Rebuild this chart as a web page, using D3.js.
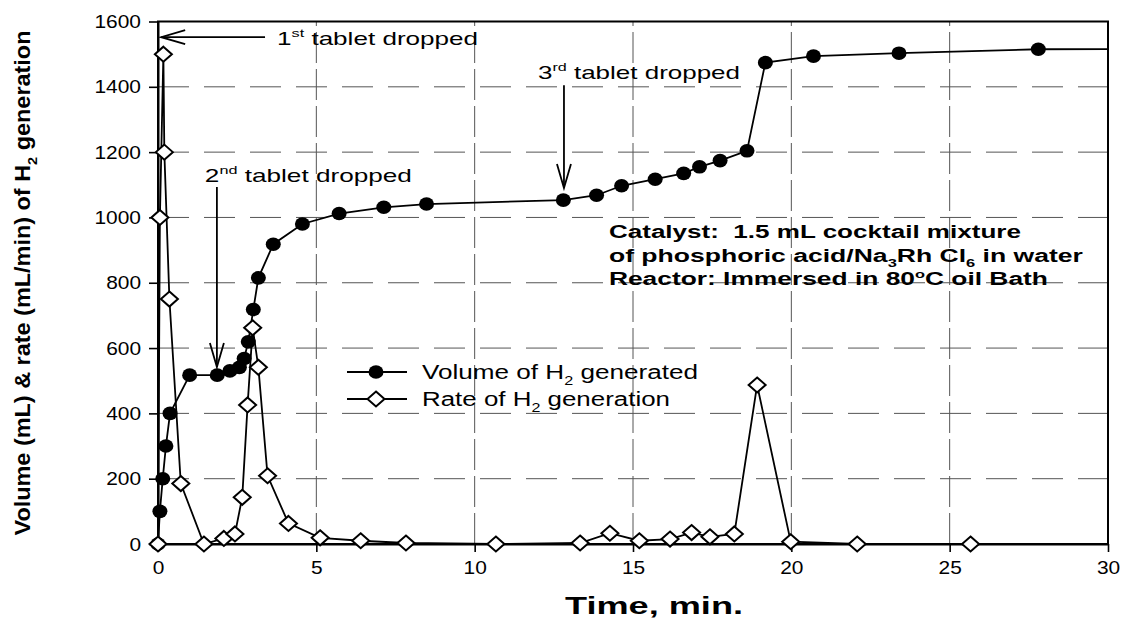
<!DOCTYPE html>
<html>
<head>
<meta charset="utf-8">
<script src="https://cdn.jsdelivr.net/npm/d3@7"></script>
<style>
  body { margin: 0; background: #fff; }
  svg { display: block; font-family: "Liberation Sans", Arial, sans-serif; }
</style>
</head>
<body>
<svg id="chart" width="1125" height="635"></svg>
<script>
// volume of H2 generated (mL) vs time (min)
const volumeTime = [0, 0.06, 0.15, 0.25, 0.38, 1.0, 1.87, 2.27, 2.57, 2.72, 2.85, 3.01, 3.17, 3.64, 4.56, 5.72, 7.13, 8.48, 12.8, 13.85, 14.64, 15.7, 16.6, 17.1, 17.75, 18.6, 19.18, 20.7, 23.4, 27.8, 32];
const volumeValue = [0, 100, 200, 300, 400, 517, 517, 530, 541, 568, 619, 718, 815, 918, 980, 1012, 1031, 1041, 1053, 1068, 1097, 1117, 1135, 1155, 1174, 1204, 1474, 1494, 1503, 1515, 1516];

// rate of H2 generation (mL/min) vs time (min)
const rateTime = [0, 0.06, 0.17, 0.2, 0.36, 0.72, 1.45, 2.08, 2.43, 2.66, 2.83, 2.99, 3.17, 3.46, 4.12, 5.12, 6.4, 7.83, 10.67, 13.33, 14.27, 15.2, 16.17, 16.85, 17.43, 18.2, 18.92, 19.98, 22.08, 25.66, 32];
const rateValue = [0, 1000, 1500, 1200, 750, 185, 0, 17, 31, 143, 426, 662, 541, 209, 63, 19, 10, 3, 0, 3, 33, 10, 15, 35, 22, 31, 487, 7, 0, 0, 0];

const xTicks = [0, 5, 10, 15, 20, 25, 30];
const yTicks = [0, 200, 400, 600, 800, 1000, 1200, 1400, 1600];

const seriesNames = ["Volume of H", "Rate of H"];
const seriesTails = [" generated", " generation"];

// tablet drop annotations (arrow tail -> tip, in data units)
const tabletNum = ["1", "2", "3"];
const tabletSup = ["st", "nd", "rd"];
const tabletTextT = [3.76, 1.48, 12.0];
const tabletTextV = [1528, 1108, 1424];
const arrowFromT = [3.38, 1.86, 12.82];
const arrowFromV = [1552, 1093, 1405];
const arrowToT = [0.1, 1.86, 12.82];
const arrowToV = [1552, 542, 1090];

const noteT = 14.24;
const noteV = [937, 863, 793];

const svg = d3.select("#chart");
const x = d3.scaleLinear().domain([0, 30]).range([158, 1108]);
const y = d3.scaleLinear().domain([0, 1600]).range([544, 21.5]);

svg.append("defs").append("clipPath").attr("id", "plotClip")
  .append("rect")
  .attr("x", x(0)).attr("y", y(1600))
  .attr("width", x(30) - x(0)).attr("height", y(0) - y(1600));

// gridlines
const grid = svg.append("g").attr("stroke", "#555").attr("stroke-width", 1).attr("fill", "none");
grid.selectAll("line.h")
  .data(yTicks.filter(d => d > 0 && d < 1600))
  .join("line")
  .attr("class", "h")
  .attr("x1", x(0)).attr("x2", x(30))
  .attr("y1", d => y(d)).attr("y2", d => y(d))
  .attr("stroke-dasharray", "31,15");
grid.selectAll("line.v")
  .data(xTicks.filter(d => d > 0 && d < 30))
  .join("line")
  .attr("class", "v")
  .attr("x1", d => x(d)).attr("x2", d => x(d))
  .attr("y1", y(0)).attr("y2", y(1600))
  .attr("stroke-dasharray", "31,6");

// frame
svg.append("rect")
  .attr("x", x(0)).attr("y", y(1600))
  .attr("width", x(30) - x(0)).attr("height", y(0) - y(1600))
  .attr("fill", "none").attr("stroke", "#000").attr("stroke-width", 2);

// axes
function styleAxis(g) {
  g.attr("font-family", null).attr("font-size", null);
  g.select(".domain").attr("stroke-width", 2);
  g.selectAll(".tick line").attr("stroke-width", 1.6);
  g.selectAll(".tick text").attr("font-size", 19).attr("fill", "#000")
    .each(function () {
      // the scanned original is a little wider than plain Arial
      const w = this.getComputedTextLength();
      d3.select(this).attr("textLength", w * 1.1).attr("lengthAdjust", "spacingAndGlyphs");
    });
}
svg.append("g")
  .attr("transform", `translate(${x(0)},0)`)
  .call(d3.axisLeft(y).tickValues(yTicks).tickSize(9).tickSizeOuter(0).tickPadding(8).tickFormat(d3.format("d")))
  .call(styleAxis);
svg.append("g")
  .attr("transform", `translate(0,${y(0)})`)
  .call(d3.axisBottom(x).tickValues(xTicks).tickSize(8).tickSizeOuter(0).tickPadding(9).tickFormat(d3.format("d")))
  .call(styleAxis);

// rich text helper (sub/superscripts), optional forced width
function richText(parent, parts, o) {
  const t = parent.append("text")
    .attr("x", o.x).attr("y", o.y)
    .attr("font-size", o.size)
    .attr("font-weight", o.weight || "normal")
    .attr("text-anchor", o.anchor || "start")
    .attr("fill", "#000")
    .style("white-space", "pre");
  if (o.rotate) t.attr("transform", `rotate(${o.rotate},${o.x},${o.y})`);
  let shift = 0;
  parts.forEach(p => {
    const [s, kind] = Array.isArray(p) ? p : [p, null];
    const off = kind === "sub" ? o.size * 0.3 : kind === "sup" ? -o.size * 0.42 : 0;
    t.append("tspan")
      .attr("dy", off - shift)
      .attr("font-size", kind ? o.size * 0.62 : o.size)
      .text(s);
    shift = off;
  });
  if (o.width) t.attr("textLength", o.width).attr("lengthAdjust", "spacingAndGlyphs");
  return t;
}

// series
const volume = volumeTime.map((t, i) => ({ t, v: volumeValue[i] }));
const rate = rateTime.map((t, i) => ({ t, v: rateValue[i] }));
const line = d3.line().x(d => x(d.t)).y(d => y(d.v));
const plot = svg.append("g").attr("clip-path", "url(#plotClip)");
const diamond = "M0,-7.5L8.5,0L0,7.5L-8.5,0Z";

plot.append("path").datum(volume)
  .attr("d", line).attr("fill", "none").attr("stroke", "#000").attr("stroke-width", 1.8);
svg.append("g").selectAll("ellipse")
  .data(volume.filter(d => d.t <= 30))
  .join("ellipse")
  .attr("cx", d => x(d.t)).attr("cy", d => y(d.v))
  .attr("rx", 7.5).attr("ry", 6.8).attr("fill", "#000");

plot.append("path").datum(rate)
  .attr("d", line).attr("fill", "none").attr("stroke", "#000").attr("stroke-width", 1.8);
svg.append("g").selectAll("path")
  .data(rate.filter(d => d.t <= 30))
  .join("path")
  .attr("transform", d => `translate(${x(d.t)},${y(d.v)})`)
  .attr("d", diamond).attr("fill", "#fff").attr("stroke", "#000").attr("stroke-width", 2);

// legend
const legend = svg.append("g");
const legendRows = [372, 399];
seriesNames.forEach((name, i) => {
  const ly = legendRows[i];
  legend.append("line").attr("x1", 347).attr("x2", 407).attr("y1", ly).attr("y2", ly)
    .attr("stroke", "#000").attr("stroke-width", 1.8);
  if (i === 0) {
    legend.append("ellipse").attr("cx", 376).attr("cy", ly).attr("rx", 7.5).attr("ry", 6.8).attr("fill", "#000");
  } else {
    legend.append("path").attr("transform", `translate(376,${ly})`).attr("d", diamond)
      .attr("fill", "#fff").attr("stroke", "#000").attr("stroke-width", 2);
  }
  richText(legend, [name, ["2", "sub"], seriesTails[i]],
    { x: 422, y: ly + 7, size: 20, width: i === 0 ? 276 : 248 });
});

// tablet annotations
const notes = svg.append("g");
const textWidths = [201, 207, 202];
tabletNum.forEach((n, i) => {
  richText(notes, [n, [tabletSup[i], "sup"], " tablet dropped"],
    { x: x(tabletTextT[i]), y: y(tabletTextV[i]), size: 19, width: textWidths[i] });
  const x1 = x(arrowFromT[i]), y1 = y(arrowFromV[i]);
  const x2 = x(arrowToT[i]), y2 = y(arrowToV[i]);
  const ang = Math.atan2(y2 - y1, x2 - x1);
  const len = 24, half = 7;
  const bx = x2 - len * Math.cos(ang), by = y2 - len * Math.sin(ang);
  const px = -Math.sin(ang) * half, py = Math.cos(ang) * half;
  notes.append("line").attr("x1", x1).attr("y1", y1).attr("x2", x2).attr("y2", y2)
    .attr("stroke", "#000").attr("stroke-width", 1.8);
  notes.append("polyline")
    .attr("points", `${bx + px},${by + py} ${x2},${y2} ${bx - px},${by - py}`)
    .attr("fill", "none").attr("stroke", "#000").attr("stroke-width", 1.8);
});

// catalyst / reactor note
const noteParts = [
  ["Catalyst:  1.5 mL cocktail mixture"],
  ["of phosphoric acid/Na", ["3", "sub"], "Rh Cl", ["6", "sub"], " in water"],
  ["Reactor: Immersed in 80", ["o", "sup"], "C oil Bath"]
];
const noteWidths = [412, 474, 439];
noteParts.forEach((parts, i) => {
  richText(svg, parts, { x: x(noteT), y: y(noteV[i]), size: 17.5, weight: "bold", width: noteWidths[i] });
});

// axis titles
richText(svg, ["Time, min."], { x: 654, y: 614, size: 23, weight: "bold", anchor: "middle", width: 178 });
richText(svg, ["Volume (mL) & rate (mL/min) of H", ["2", "sub"], " generation"],
  { x: 30, y: 283, size: 22, weight: "bold", anchor: "middle", rotate: -90, width: 505 });
</script>
</body>
</html>
